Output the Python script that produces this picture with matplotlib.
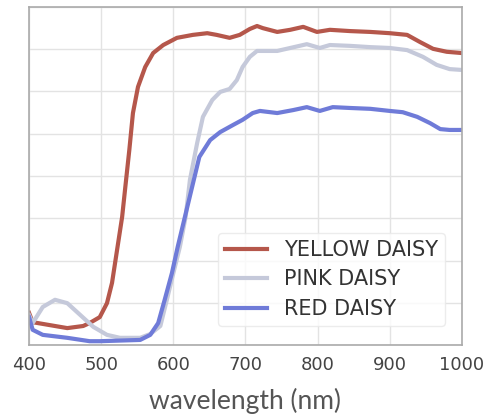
import matplotlib
matplotlib.use("Agg")
import matplotlib.pyplot as plt

# reflectance spectra (wavelength in nm, value in %)
yellow_wl = [400, 405, 429, 453, 475, 484, 498, 508, 515, 522, 529, 534, 539, 544, 551, 561,
             572, 586, 605, 627, 647, 660, 678, 692, 706, 716, 724, 744, 762, 780, 799, 817,
             845, 873, 900, 924, 942, 960, 979, 1000]
yellow_val = [7.6, 5.4, 4.7, 4.0, 4.5, 5.2, 6.6, 9.9, 14.7, 22.5, 30.3, 38.3, 46.2, 54.9, 61.1, 65.8,
              69.1, 71.0, 72.7, 73.4, 73.8, 73.4, 72.7, 73.4, 74.8, 75.5, 75.0, 74.1, 74.6, 75.3, 74.1, 74.6,
              74.3, 74.1, 73.8, 73.4, 71.7, 70.1, 69.4, 69.1]

pink_wl = [400, 405, 419, 436, 453, 471, 489, 508, 526, 554, 568, 582, 591, 600, 609, 617, 623,
           633, 641, 654, 665, 678, 688, 696, 706, 716, 744, 762, 785, 803, 817, 845, 873, 900,
           924, 946, 965, 983, 1000]
pink_val = [7.1, 5.2, 9.0, 10.7, 9.9, 7.1, 4.3, 2.4, 1.7, 1.7, 2.6, 4.5, 10.7, 17.0, 23.2, 30.3, 39.1,
            47.8, 54.0, 58.0, 59.9, 60.6, 62.7, 65.8, 68.2, 69.6, 69.6, 70.3, 71.2, 70.3, 71.0, 70.8, 70.5, 70.3,
            69.8, 68.2, 66.3, 65.3, 65.1]

red_wl = [400, 405, 419, 453, 484, 498, 554, 568, 579, 588, 598, 606, 616, 626, 636, 651, 665,
          683, 696, 710, 720, 744, 766, 785, 803, 821, 845, 873, 900, 918, 938, 956, 970, 983, 1000]
red_val = [6.6, 3.6, 2.4, 1.7, 0.9, 0.9, 1.2, 2.4, 5.2, 10.7, 17.0, 23.2, 30.3, 37.4, 44.5, 48.5, 50.4,
           52.1, 53.3, 54.9, 55.4, 54.9, 55.6, 56.3, 55.4, 56.3, 56.1, 55.9, 55.4, 55.1, 54.0, 52.5, 51.1, 50.9, 50.9]

labels = ["YELLOW DAISY", "PINK DAISY", "RED DAISY"]
colors = ["#b5574b", "#c5c9da", "#6f7bd8"]

fig = plt.figure(figsize=(5.01, 4.19), dpi=100)
ax = fig.add_axes([0.058, 0.1766, 0.864, 0.8067])

for wl, val, lab, col in zip([yellow_wl, pink_wl, red_wl], [yellow_val, pink_val, red_val], labels, colors):
    ax.plot(wl, val, color=col, linewidth=3, label=lab, solid_joinstyle="round")

ax.set_xlim(400, 1000)
ax.set_ylim(0, 80)
ax.set_xticks([400, 500, 600, 700, 800, 900, 1000])
ax.set_yticks(range(0, 81, 10))
ax.set_yticklabels([])
ax.tick_params(axis="y", length=0)
ax.tick_params(axis="x", length=0, labelsize=13, labelcolor="#444444", pad=8)
ax.grid(True, color="#e3e3e3", linewidth=1)
for s in ax.spines.values():
    s.set_color("#aaaaaa")
    s.set_linewidth(1.2)

ax.set_xlabel("wavelength (nm)", fontsize=19, color="#555555", family="Lato", labelpad=10)

leg = ax.legend(loc="lower right", fontsize=15, frameon=True, handlelength=2.0,
                borderpad=0.35, labelspacing=0.45, handletextpad=0.8,
                bbox_to_anchor=(0.985, 0.025))
leg.get_frame().set_edgecolor("#e8e8e8")
for t in leg.get_texts():
    t.set_color("#333333")

fig.savefig("out.png", dpi=100)
